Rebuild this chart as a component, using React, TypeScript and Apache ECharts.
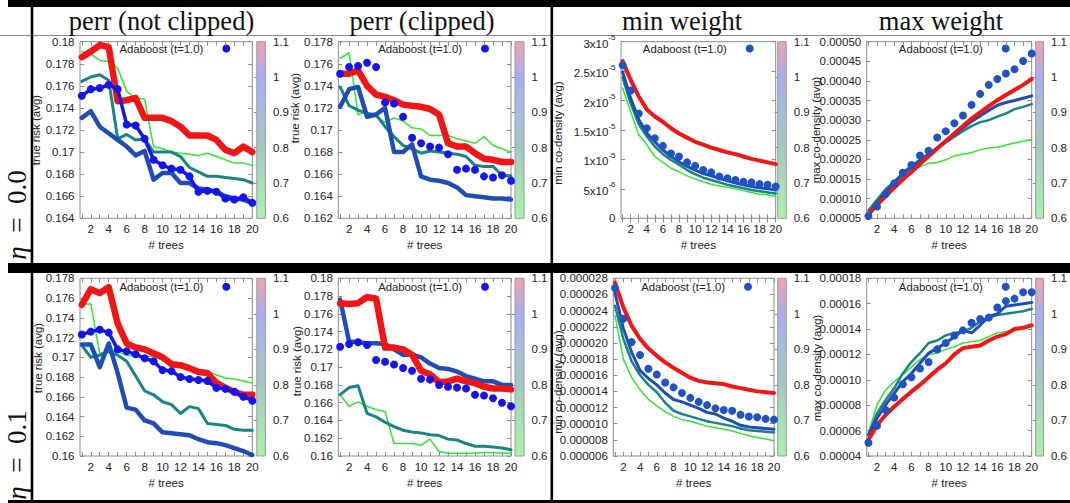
import React, { useEffect, useRef } from 'react';
import * as echarts from 'echarts';

// ---------------- data ----------------
const trees = [1, 2, 3, 4, 5, 6, 7, 8, 9, 10, 11, 12, 13, 14, 15, 16, 17, 18, 19, 20];
const xTickValues = [1, 2, 3, 4, 5, 6, 7, 8, 9, 10, 11, 12, 13, 14, 15, 16, 17, 18, 19, 20];
const xLabelValues = [2, 4, 6, 8, 10, 12, 14, 16, 18, 20];
const colorbarTicks = [0.6, 0.7, 0.8, 0.9, 1.0, 1.1];
const colorbarInnerTicks = [0.7, 0.8, 0.9, 1.0];

const titles = ['perr (not clipped)', 'perr (clipped)', 'min weight', 'max weight'];
const rowLabels = ['0.0', '0.1'];
const legendLabel = 'Adaboost (t=1.0)';
const xName = '# trees';
const yNames = ['true risk (avg)', 'true risk (avg)', 'min co-density (avg)', 'max co-density (avg)'];

const yTicksP1 = [0.164, 0.166, 0.168, 0.17, 0.172, 0.174, 0.176, 0.178, 0.18];
const yTicksP2 = [0.162, 0.164, 0.166, 0.168, 0.17, 0.172, 0.174, 0.176, 0.178];
const yTicksP3 = [0, 0.000005, 0.00001, 0.000015, 0.00002, 0.000025, 0.00003];
const yTicksP4 = [0.00005, 0.0001, 0.00015, 0.0002, 0.00025, 0.0003, 0.00035, 0.0004, 0.00045, 0.0005];
const yTicksP5 = [0.16, 0.162, 0.164, 0.166, 0.168, 0.17, 0.172, 0.174, 0.176, 0.178];
const yTicksP6 = [0.16, 0.162, 0.164, 0.166, 0.168, 0.17, 0.172, 0.174, 0.176, 0.178, 0.18];
const yTicksP7 = [0.000006, 0.000008, 0.00001, 0.000012, 0.000014, 0.000016, 0.000018, 0.00002, 0.000022, 0.000024, 0.000026, 0.000028];
const yTicksP8 = [0.00004, 0.00006, 0.00008, 0.0001, 0.00012, 0.00014, 0.00016, 0.00018];

// eta = 0.0, perr (not clipped)
const p1Green = [0.1791, 0.1789, 0.1783, 0.1782, 0.1776, 0.1755, 0.1749, 0.1748, 0.1705, 0.1703, 0.1700, 0.1699, 0.1698, 0.1697, 0.1699, 0.1696, 0.1693, 0.1690, 0.1690, 0.1688];
const p1Teal = [0.1764, 0.1768, 0.1770, 0.1765, 0.1712, 0.1716, 0.1711, 0.1712, 0.1700, 0.1700, 0.1700, 0.1696, 0.1686, 0.1682, 0.1678, 0.1678, 0.1677, 0.1676, 0.1675, 0.1672];
const p1Blue = [0.1731, 0.1737, 0.1723, 0.1717, 0.1711, 0.1705, 0.1697, 0.1701, 0.1675, 0.1681, 0.1681, 0.1672, 0.1672, 0.1667, 0.1666, 0.1664, 0.1660, 0.1658, 0.1657, 0.1654];
const p1Red = [0.1786, 0.1791, 0.1797, 0.1795, 0.1746, 0.1747, 0.1749, 0.1731, 0.1731, 0.1731, 0.1728, 0.1723, 0.1715, 0.1715, 0.1715, 0.1711, 0.1702, 0.1699, 0.1705, 0.1700];
const adaboostPerr0 = [0.1751, 0.1757, 0.1758, 0.1761, 0.1757, 0.1725, 0.1724, 0.1712, 0.1693, 0.1688, 0.1685, 0.1684, 0.1678, 0.1664, 0.1665, 0.1664, 0.1658, 0.1657, 0.1659, 0.1654];

// eta = 0.0, perr (clipped)
const p2Green = [0.1765, 0.1770, 0.1714, 0.1716, 0.1712, 0.1707, 0.1711, 0.1708, 0.1702, 0.1701, 0.1695, 0.1695, 0.1695, 0.1692, 0.1690, 0.1688, 0.1694, 0.1686, 0.1683, 0.1680];
const p2Teal = [0.1739, 0.1722, 0.1718, 0.1715, 0.1714, 0.1703, 0.1694, 0.1686, 0.1683, 0.1679, 0.1681, 0.1680, 0.1679, 0.1678, 0.1676, 0.1668, 0.1667, 0.1667, 0.1659, 0.1658];
const p2Blue = [0.1721, 0.1737, 0.1739, 0.1712, 0.1714, 0.1720, 0.1680, 0.1680, 0.1687, 0.1658, 0.1655, 0.1654, 0.1652, 0.1648, 0.1641, 0.1640, 0.1639, 0.1638, 0.1638, 0.1637];
const p2Red = [0.1751, 0.1751, 0.1754, 0.1740, 0.1732, 0.1730, 0.1727, 0.1723, 0.1722, 0.1721, 0.1719, 0.1714, 0.1688, 0.1685, 0.1685, 0.1679, 0.1674, 0.1673, 0.1671, 0.1671];

// eta = 0.0, min weight
const p3Green = [2.21e-5, 1.81e-5, 1.42e-5, 1.25e-5, 1.05e-5, 0.95e-5, 0.85e-5, 0.79e-5, 0.72e-5, 0.67e-5, 0.62e-5, 0.58e-5, 0.55e-5, 0.53e-5, 0.50e-5, 0.47e-5, 0.44e-5, 0.41e-5, 0.40e-5, 0.37e-5];
const p3Teal = [2.39e-5, 1.95e-5, 1.60e-5, 1.39e-5, 1.22e-5, 1.09e-5, 0.99e-5, 0.91e-5, 0.82e-5, 0.75e-5, 0.69e-5, 0.65e-5, 0.61e-5, 0.57e-5, 0.54e-5, 0.51e-5, 0.48e-5, 0.46e-5, 0.44e-5, 0.42e-5];
const p3Blue = [2.49e-5, 2.04e-5, 1.68e-5, 1.45e-5, 1.30e-5, 1.16e-5, 1.05e-5, 0.96e-5, 0.88e-5, 0.82e-5, 0.76e-5, 0.72e-5, 0.68e-5, 0.64e-5, 0.60e-5, 0.57e-5, 0.54e-5, 0.52e-5, 0.50e-5, 0.48e-5];
const p3Red = [2.67e-5, 2.35e-5, 2.07e-5, 1.85e-5, 1.73e-5, 1.64e-5, 1.53e-5, 1.44e-5, 1.37e-5, 1.30e-5, 1.25e-5, 1.20e-5, 1.16e-5, 1.12e-5, 1.09e-5, 1.05e-5, 1.01e-5, 0.98e-5, 0.95e-5, 0.92e-5];
const adaboostMin0 = [2.60e-5, 2.17e-5, 1.78e-5, 1.53e-5, 1.36e-5, 1.23e-5, 1.10e-5, 1.05e-5, 0.95e-5, 0.89e-5, 0.82e-5, 0.78e-5, 0.71e-5, 0.68e-5, 0.65e-5, 0.62e-5, 0.61e-5, 0.58e-5, 0.57e-5, 0.54e-5];

// eta = 0.0, max weight
const p4Green = [0.000065, 0.000090, 0.000115, 0.000139, 0.000160, 0.000177, 0.000181, 0.000190, 0.000192, 0.000199, 0.000209, 0.000213, 0.000217, 0.000225, 0.000229, 0.000231, 0.000237, 0.000242, 0.000246, 0.000251];
const p4Teal = [0.000070, 0.000097, 0.000124, 0.000143, 0.000166, 0.000184, 0.000199, 0.000214, 0.000228, 0.000243, 0.000258, 0.000272, 0.000285, 0.000295, 0.000300, 0.000309, 0.000317, 0.000328, 0.000334, 0.000341];
const p4Blue = [0.000058, 0.000090, 0.000116, 0.000141, 0.000162, 0.000180, 0.000197, 0.000213, 0.000229, 0.000246, 0.000263, 0.000280, 0.000297, 0.000311, 0.000325, 0.000338, 0.000345, 0.000350, 0.000356, 0.000362];
const p4Red = [0.000060, 0.000084, 0.000106, 0.000128, 0.000149, 0.000168, 0.000188, 0.000208, 0.000228, 0.000247, 0.000266, 0.000285, 0.000304, 0.000320, 0.000336, 0.000351, 0.000364, 0.000377, 0.000390, 0.000405];
const adaboostMax0 = [0.000056, 0.000080, 0.000112, 0.000139, 0.000166, 0.000186, 0.000210, 0.000222, 0.000256, 0.000272, 0.000292, 0.000312, 0.000339, 0.000367, 0.000390, 0.000405, 0.000419, 0.000430, 0.000451, 0.000470];

// eta = 0.1, perr (not clipped)
const p5Green = [0.1754, 0.1754, 0.1704, 0.1706, 0.1706, 0.1702, 0.1701, 0.1701, 0.1701, 0.1697, 0.1694, 0.1692, 0.1689, 0.1687, 0.1686, 0.1682, 0.1679, 0.1678, 0.1676, 0.1674];
const p5Teal = [0.1712, 0.1700, 0.1702, 0.1706, 0.1702, 0.1696, 0.1681, 0.1666, 0.1662, 0.1655, 0.1652, 0.1643, 0.1650, 0.1648, 0.1633, 0.1632, 0.1631, 0.1627, 0.1626, 0.1626];
const p5Blue = [0.1713, 0.1713, 0.1690, 0.1714, 0.1684, 0.1649, 0.1647, 0.1636, 0.1633, 0.1624, 0.1623, 0.1622, 0.1621, 0.1617, 0.1614, 0.1613, 0.1611, 0.1608, 0.1605, 0.1601];
const p5Red = [0.1753, 0.1769, 0.1765, 0.1771, 0.1734, 0.1714, 0.1710, 0.1708, 0.1704, 0.1700, 0.1693, 0.1692, 0.1689, 0.1685, 0.1684, 0.1674, 0.1669, 0.1665, 0.1662, 0.1662];
const adaboostPerr1 = [0.1723, 0.1726, 0.1728, 0.1725, 0.1708, 0.1706, 0.1703, 0.1699, 0.1696, 0.1687, 0.1686, 0.1680, 0.1678, 0.1677, 0.1676, 0.1669, 0.1668, 0.1665, 0.1660, 0.1656];

// eta = 0.1, perr (clipped)
const p6Green = [0.1669, 0.1656, 0.1661, 0.1656, 0.1652, 0.1650, 0.1614, 0.1614, 0.1614, 0.1612, 0.1619, 0.1605, 0.1603, 0.1603, 0.1603, 0.1603, 0.1604, 0.1604, 0.1603, 0.1603];
const p6Teal = [0.1669, 0.1677, 0.1679, 0.1648, 0.1644, 0.1638, 0.1633, 0.1629, 0.1627, 0.1626, 0.1624, 0.1623, 0.1619, 0.1618, 0.1614, 0.1611, 0.1611, 0.1610, 0.1609, 0.1607];
const p6Blue = [0.1776, 0.1729, 0.1728, 0.1727, 0.1727, 0.1726, 0.1720, 0.1714, 0.1714, 0.1711, 0.1704, 0.1699, 0.1698, 0.1695, 0.1690, 0.1687, 0.1684, 0.1684, 0.1680, 0.1680];
const p6Red = [0.1772, 0.1771, 0.1772, 0.1779, 0.1777, 0.1722, 0.1722, 0.1720, 0.1714, 0.1696, 0.1692, 0.1683, 0.1684, 0.1687, 0.1684, 0.1682, 0.1678, 0.1676, 0.1676, 0.1675];

// eta = 0.1, min weight
const p7Green = [2.34e-5, 1.80e-5, 1.57e-5, 1.42e-5, 1.30e-5, 1.22e-5, 1.15e-5, 1.09e-5, 1.05e-5, 1.03e-5, 1.00e-5, 0.97e-5, 0.95e-5, 0.93e-5, 0.91e-5, 0.88e-5, 0.85e-5, 0.83e-5, 0.81e-5, 0.79e-5];
const p7Teal = [2.46e-5, 2.05e-5, 1.77e-5, 1.60e-5, 1.48e-5, 1.39e-5, 1.26e-5, 1.16e-5, 1.12e-5, 1.09e-5, 1.06e-5, 1.03e-5, 1.01e-5, 0.99e-5, 0.97e-5, 0.94e-5, 0.92e-5, 0.91e-5, 0.90e-5, 0.89e-5];
const p7Blue = [2.62e-5, 2.18e-5, 1.88e-5, 1.66e-5, 1.56e-5, 1.48e-5, 1.38e-5, 1.30e-5, 1.27e-5, 1.23e-5, 1.19e-5, 1.14e-5, 1.12e-5, 1.07e-5, 1.03e-5, 0.98e-5, 0.96e-5, 0.95e-5, 0.94e-5, 0.93e-5];
const p7Red = [2.75e-5, 2.44e-5, 2.21e-5, 2.05e-5, 1.93e-5, 1.84e-5, 1.76e-5, 1.69e-5, 1.63e-5, 1.57e-5, 1.53e-5, 1.51e-5, 1.50e-5, 1.49e-5, 1.46e-5, 1.44e-5, 1.42e-5, 1.40e-5, 1.39e-5, 1.38e-5];
const adaboostMin1 = [2.68e-5, 2.30e-5, 2.01e-5, 1.85e-5, 1.68e-5, 1.61e-5, 1.51e-5, 1.45e-5, 1.38e-5, 1.32e-5, 1.27e-5, 1.23e-5, 1.19e-5, 1.17e-5, 1.16e-5, 1.11e-5, 1.09e-5, 1.08e-5, 1.06e-5, 1.05e-5];

// eta = 0.1, max weight
const p8Green = [0.0000579, 0.0000802, 0.0000920, 0.0000986, 0.000104, 0.000110, 0.000116, 0.000120, 0.000121, 0.000124, 0.000126, 0.000129, 0.000130, 0.000131, 0.000134, 0.000137, 0.000138, 0.000139, 0.000141, 0.000142];
const p8Teal = [0.0000566, 0.0000736, 0.0000841, 0.0000933, 0.000105, 0.000114, 0.000121, 0.000129, 0.000131, 0.000135, 0.000137, 0.000138, 0.000141, 0.000146, 0.000149, 0.000151, 0.000152, 0.000153, 0.000154, 0.000156];
const p8Blue = [0.0000566, 0.0000697, 0.0000802, 0.0000894, 0.0000986, 0.000105, 0.000113, 0.000121, 0.000125, 0.000129, 0.000134, 0.000139, 0.000137, 0.000143, 0.000150, 0.000152, 0.000158, 0.000159, 0.000160, 0.000161];
const p8Red = [0.0000527, 0.0000644, 0.0000723, 0.0000789, 0.0000849, 0.0000907, 0.0000960, 0.000102, 0.000108, 0.000113, 0.000120, 0.000125, 0.000126, 0.000127, 0.000131, 0.000134, 0.000136, 0.000140, 0.000141, 0.000143];
const adaboostMax1 = [0.0000505, 0.0000639, 0.0000762, 0.0000860, 0.0000965, 0.000102, 0.000109, 0.000114, 0.000124, 0.000129, 0.000135, 0.000139, 0.000145, 0.000148, 0.000149, 0.000157, 0.000162, 0.000164, 0.000169, 0.000169];

// ---------------- styling ----------------
const SANS = "'Liberation Sans', Arial, sans-serif";
const SERIF = "'Liberation Serif', 'Times New Roman', serif";
const TXT = '#222';
const BORDER = '#8c8c8c';
const GREEN = '#30e630';
const TEAL = '#178585';
const BLUE = '#1f4db6';
const RED = '#f41414';
const BRIGHT = '#1414ee';
const DOT = '#1f52c4';

type Layout = { left: number; top: number; width: number; height: number; cb: number; cbW: number; ylab: [number, number]; legY: number };
const layouts: Layout[] = [
  { left: 80, top: 41.7, width: 172.3, height: 176.6, cb: 256.8, cbW: 8.6, ylab: [36, 130], legY: 48.5 },
  { left: 338.3, top: 41.7, width: 172.7, height: 176.6, cb: 515, cbW: 9, ylab: [295, 108], legY: 48.5 },
  { left: 621, top: 41.7, width: 154.7, height: 176.6, cb: 777.7, cbW: 8.5, ylab: [558, 133], legY: 48.5 },
  { left: 866.7, top: 41.7, width: 165, height: 176.6, cb: 1035.7, cbW: 9, ylab: [816, 130], legY: 48.5 },
  { left: 80, top: 278.3, width: 172.3, height: 177.7, cb: 256.8, cbW: 8.6, ylab: [37.5, 358], legY: 286.7 },
  { left: 338.3, top: 278.3, width: 172.7, height: 177.7, cb: 515, cbW: 9, ylab: [296.5, 361], legY: 286.7 },
  { left: 613.3, top: 278.3, width: 160.7, height: 177.7, cb: 777.7, cbW: 8.5, ylab: [558, 382], legY: 286.7 },
  { left: 866.7, top: 278.3, width: 165, height: 177.7, cb: 1035.7, cbW: 9, ylab: [817, 368], legY: 286.7 },
];

type S = { data: number[]; color: string; width: number; kind?: 'line' | 'dots' | 'linedots' };
type P = { min: number; max: number; ticks: number[]; fmt: 'plain' | 'sci' | 'fix5' | 'fix6'; series: S[]; dot: string };

const panels: P[] = [
  { min: 0.164, max: 0.18, ticks: yTicksP1, fmt: 'plain', dot: BRIGHT, series: [
    { data: p1Green, color: GREEN, width: 1.5 }, { data: p1Teal, color: TEAL, width: 3 },
    { data: p1Blue, color: BLUE, width: 4.5 }, { data: p1Red, color: RED, width: 6.5 },
    { data: adaboostPerr0, color: BRIGHT, width: 3.5, kind: 'linedots' }] },
  { min: 0.162, max: 0.178, ticks: yTicksP2, fmt: 'plain', dot: BRIGHT, series: [
    { data: p2Green, color: GREEN, width: 1.5 }, { data: p2Teal, color: TEAL, width: 3 },
    { data: p2Blue, color: BLUE, width: 4.5 }, { data: p2Red, color: RED, width: 6.5 },
    { data: adaboostPerr0, color: BRIGHT, width: 0, kind: 'dots' }] },
  { min: 0, max: 0.00003, ticks: yTicksP3, fmt: 'sci', dot: DOT, series: [
    { data: p3Green, color: GREEN, width: 1.5 }, { data: p3Teal, color: TEAL, width: 2.5 },
    { data: p3Blue, color: BLUE, width: 3 }, { data: p3Red, color: RED, width: 4 },
    { data: adaboostMin0, color: DOT, width: 0, kind: 'dots' }] },
  { min: 0.00005, max: 0.0005, ticks: yTicksP4, fmt: 'fix5', dot: DOT, series: [
    { data: p4Green, color: GREEN, width: 1.5 }, { data: p4Teal, color: TEAL, width: 2.5 },
    { data: p4Blue, color: BLUE, width: 3 }, { data: p4Red, color: RED, width: 4 },
    { data: adaboostMax0, color: DOT, width: 0, kind: 'dots' }] },
  { min: 0.16, max: 0.178, ticks: yTicksP5, fmt: 'plain', dot: BRIGHT, series: [
    { data: p5Green, color: GREEN, width: 1.5 }, { data: p5Teal, color: TEAL, width: 3 },
    { data: p5Blue, color: BLUE, width: 4.5 }, { data: p5Red, color: RED, width: 6.5 },
    { data: adaboostPerr1, color: BRIGHT, width: 3.5, kind: 'linedots' }] },
  { min: 0.16, max: 0.18, ticks: yTicksP6, fmt: 'plain', dot: BRIGHT, series: [
    { data: p6Green, color: GREEN, width: 1.5 }, { data: p6Teal, color: TEAL, width: 3 },
    { data: p6Blue, color: BLUE, width: 4.5 }, { data: p6Red, color: RED, width: 6.5 },
    { data: adaboostPerr1, color: BRIGHT, width: 0, kind: 'dots' }] },
  { min: 0.000006, max: 0.000028, ticks: yTicksP7, fmt: 'fix6', dot: DOT, series: [
    { data: p7Green, color: GREEN, width: 1.5 }, { data: p7Teal, color: TEAL, width: 2.5 },
    { data: p7Blue, color: BLUE, width: 3 }, { data: p7Red, color: RED, width: 4 },
    { data: adaboostMin1, color: DOT, width: 0, kind: 'dots' }] },
  { min: 0.00004, max: 0.00018, ticks: yTicksP8, fmt: 'fix5', dot: DOT, series: [
    { data: p8Green, color: GREEN, width: 1.5 }, { data: p8Teal, color: TEAL, width: 2.5 },
    { data: p8Blue, color: BLUE, width: 3 }, { data: p8Red, color: RED, width: 4 },
    { data: adaboostMax1, color: DOT, width: 0, kind: 'dots' }] },
];

const pts = (vals: number[]) => trees.map((t, i) => [t, vals[i]]);

function fmtFn(kind: P['fmt']) {
  if (kind === 'fix5') return (v: number) => v.toFixed(5);
  if (kind === 'fix6') return (v: number) => v.toFixed(6);
  if (kind === 'sci')
    return (v: number) => {
      if (Math.abs(v) < 1e-12) return '0';
      const e = Math.floor(Math.log10(v) + 1e-9);
      const m = parseFloat((v / Math.pow(10, e)).toFixed(2));
      return `{m|${m}x10}{e|${e}}`;
    };
  return (v: number) => String(parseFloat(v.toFixed(6)));
}

function buildOption() {
  const grid: any[] = [];
  const xAxis: any[] = [];
  const yAxis: any[] = [];
  const series: any[] = [];
  const graphic: any[] = [];

  layouts.forEach((L, i) => {
    const P = panels[i];
    grid.push({ left: L.left, top: L.top, width: L.width, height: L.height, show: true, borderColor: BORDER, borderWidth: 1, backgroundColor: 'transparent', containLabel: false });
    const tickStyle = { show: true, inside: true, length: 4, lineStyle: { color: BORDER, width: 1 } };
    xAxis.push({
      type: 'value', gridIndex: i, min: 0.8, max: 20, position: 'bottom',
      axisLine: { show: false }, splitLine: { show: false },
      axisTick: { ...tickStyle, customValues: xTickValues },
      axisLabel: { customValues: xLabelValues, margin: 5, fontSize: 11.5, color: TXT, fontFamily: SANS },
      name: xName, nameLocation: 'middle', nameGap: 21,
      nameTextStyle: { fontSize: 11.5, color: TXT, fontFamily: SANS },
    });
    xAxis.push({
      type: 'value', gridIndex: i, min: 0.8, max: 20, position: 'top',
      axisLine: { show: false }, splitLine: { show: false },
      axisTick: { ...tickStyle, customValues: xTickValues },
      axisLabel: { show: false },
    });
    yAxis.push({
      type: 'value', gridIndex: i, min: P.min, max: P.max, position: 'left',
      axisLine: { show: false }, splitLine: { show: false },
      axisTick: { ...tickStyle, customValues: P.ticks },
      axisLabel: {
        customValues: P.ticks, margin: 5.5, fontSize: 11.5, color: TXT, fontFamily: SANS,
        formatter: fmtFn(P.fmt),
        rich: {
          m: { fontSize: 11.5, color: TXT, fontFamily: SANS, lineHeight: 16, verticalAlign: 'bottom' },
          e: { fontSize: 8, color: TXT, fontFamily: SANS, lineHeight: 8, verticalAlign: 'top' },
        },
      },
    });
    yAxis.push({
      type: 'value', gridIndex: i, min: P.min, max: P.max, position: 'right',
      axisLine: { show: false }, splitLine: { show: false },
      axisTick: { ...tickStyle, customValues: P.ticks },
      axisLabel: { show: false },
    });

    P.series.forEach((s, k) => {
      const base = { xAxisIndex: 2 * i, yAxisIndex: 2 * i, data: pts(s.data), silent: true, clip: false, animation: false, z: 2 + k * 0.01 };
      if (s.kind === 'dots') {
        series.push({ ...base, type: 'scatter', symbol: 'circle', symbolSize: 8, itemStyle: { color: s.color, opacity: 1 } });
      } else if (s.kind === 'linedots') {
        series.push({ ...base, type: 'line', symbol: 'circle', symbolSize: 8, showSymbol: true, showAllSymbol: true,
          lineStyle: { color: s.color, width: s.width, cap: 'round', join: 'round' }, itemStyle: { color: s.color, borderWidth: 0 } });
      } else {
        series.push({ ...base, type: 'line', symbol: 'none', showSymbol: false,
          lineStyle: { color: s.color, width: s.width, cap: 'round', join: 'round' }, itemStyle: { color: s.color } });
      }
    });

    // legend
    const right = L.left + L.width;
    graphic.push({ type: 'text', x: right - 49, y: L.legY, style: { x: 0, y: 0, text: legendLabel, fill: TXT, fontSize: 11.3, fontFamily: SANS, align: 'right', textAlign: 'right', verticalAlign: 'middle', textVerticalAlign: 'middle' } });
    graphic.push({ type: 'circle', shape: { cx: right - 26, cy: L.legY, r: 4 }, style: { fill: P.dot } });
    // y label
    graphic.push({ type: 'text', x: L.ylab[0], y: L.ylab[1], rotation: Math.PI / 2, style: { x: 0, y: 0, text: yNames[i % 4], fill: TXT, fontSize: 11.5, fontFamily: SANS, align: 'center', textAlign: 'center', verticalAlign: 'middle', textVerticalAlign: 'middle' } });
  });

  // colorbars
  layouts.forEach((L, i) => {
    const gi = 8 + i;
    grid.push({
      left: L.cb, top: L.top, width: L.cbW, height: L.height, show: true, borderColor: '#9a9a9a', borderWidth: 1,
      backgroundColor: new echarts.graphic.LinearGradient(0, 0, 0, 1, [
        { offset: 0, color: '#f4a2ac' },
        { offset: 0.2, color: '#a9acf2' },
        { offset: 0.4, color: '#a8bcdc' },
        { offset: 0.6, color: '#a3c8c2' },
        { offset: 0.8, color: '#a8dfb6' },
        { offset: 1, color: '#a8f4a8' },
      ]),
    });
    xAxis.push({ type: 'value', gridIndex: gi, min: 0, max: 1, show: false });
    yAxis.push({
      type: 'value', gridIndex: gi, min: 0.6, max: 1.1, position: 'right',
      axisLine: { show: false }, splitLine: { show: false },
      axisTick: { show: true, inside: true, length: 3, customValues: colorbarInnerTicks, lineStyle: { color: '#7d8fa8', width: 1 } },
      axisLabel: { customValues: colorbarTicks, margin: 7.5, fontSize: 11.5, color: TXT, fontFamily: SANS, formatter: (v: number) => String(parseFloat(v.toFixed(1))) },
    });
  });

  // frame
  const black = { fill: '#000' };
  graphic.push({ type: 'rect', shape: { x: 8, y: 0, width: 1062, height: 7 }, style: black });
  graphic.push({ type: 'line', shape: { x1: 0, y1: 35.5, x2: 1070, y2: 35.5 }, style: { stroke: '#8a8a8a', lineWidth: 1 } });
  graphic.push({ type: 'rect', shape: { x: 30.7, y: 0, width: 2.6, height: 503 }, style: black });
  graphic.push({ type: 'rect', shape: { x: 550.5, y: 0, width: 2.6, height: 503 }, style: black });
  graphic.push({ type: 'rect', shape: { x: 8, y: 263, width: 1062, height: 10 }, style: black });
  graphic.push({ type: 'rect', shape: { x: 8, y: 500, width: 1062, height: 3 }, style: black });

  // column titles
  const titleX = [161.5, 422, 682, 941];
  titles.forEach((t, i) => {
    graphic.push({ type: 'text', x: titleX[i], y: 21, style: { x: 0, y: 0, text: t, fill: '#111', fontSize: 26.5, fontFamily: SERIF, align: 'center', textAlign: 'center', verticalAlign: 'middle', textVerticalAlign: 'middle' } });
  });
  // row labels
  const rowY = [215, 455];
  rowLabels.forEach((r, i) => {
    graphic.push({ type: 'text', x: 17, y: rowY[i], rotation: Math.PI / 2, style: {
      x: 0, y: 0, text: `{i|η}  =  ${r}`, fill: '#111', fontSize: 27, fontFamily: SERIF,
      align: 'center', textAlign: 'center', verticalAlign: 'middle', textVerticalAlign: 'middle',
      rich: { i: { fontStyle: 'italic', fontSize: 27, fontFamily: SERIF, fill: '#111', color: '#111' } },
    } });
  });

  return {
    animation: false,
    backgroundColor: '#fff',
    textStyle: { fontFamily: SANS },
    grid, xAxis, yAxis, series, graphic,
  };
}

export default function App() {
  const ref = useRef<HTMLDivElement>(null);
  useEffect(() => {
    if (!ref.current) return;
    const chart = echarts.init(ref.current, undefined, { renderer: 'svg' });
    chart.setOption(buildOption() as any);
    return () => chart.dispose();
  }, []);
  return <div ref={ref} style={{ position: 'absolute', left: 0, top: 0, width: 1070, height: 503, background: '#fff' }} />;
}
